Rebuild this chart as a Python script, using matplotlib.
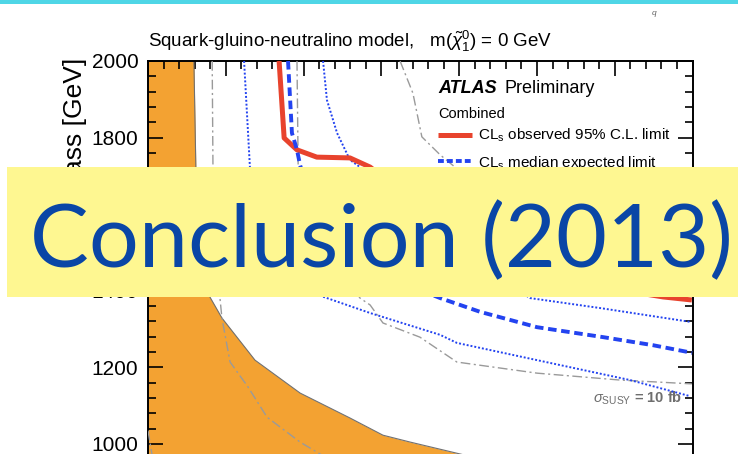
import matplotlib
matplotlib.use('Agg')
import matplotlib.pyplot as plt
from matplotlib.patches import Rectangle
from matplotlib.lines import Line2D
from matplotlib.ticker import MultipleLocator

plt.rcParams['font.family'] = ['Liberation Sans', 'DejaVu Sans']
plt.rcParams['mathtext.fontset'] = 'custom'
plt.rcParams['mathtext.rm'] = 'Liberation Sans'
plt.rcParams['mathtext.it'] = 'Liberation Sans:italic'
plt.rcParams['mathtext.bf'] = 'Liberation Sans:bold'

# curves: (gluino mass, squark mass) in GeV
orange_x = [1118, 1123, 1159, 1190, 1275, 1391, 1519, 1604, 1674, 1802, 1900]
orange_y = [2000, 1723, 1384, 1329, 1219, 1133, 1068, 1023, 1005, 974, 950]

obs_x = [1337, 1350, 1383, 1434, 1519, 1571, 1776, 2059, 2324, 2398]
obs_y = [2000, 1799, 1768, 1749, 1747, 1723, 1559, 1428, 1384, 1376]

exp_x = [1360, 1370, 1383, 1391, 1429, 1571, 1751, 1854, 2000, 2170, 2298, 2399]
exp_y = [2000, 1812, 1768, 1728, 1598, 1454, 1381, 1345, 1305, 1279, 1258, 1238]

exp_m1_x = [1247, 1262, 1293, 1365, 1460, 1571, 1751, 1794, 2000, 2239, 2393]
exp_m1_y = [2000, 1723, 1533, 1415, 1381, 1342, 1285, 1264, 1219, 1167, 1125]

exp_p1_x = [1450, 1460, 1486, 1519, 1545, 1699, 1854, 1982, 2162, 2393]
exp_p1_y = [2000, 1898, 1812, 1742, 1723, 1598, 1467, 1381, 1355, 1319]

xsec_a_x = [1165, 1167, 1185, 1190, 1211, 1257, 1306, 1391, 1442, 1545]
xsec_a_y = [2000, 1723, 1381, 1329, 1214, 1149, 1070, 1005, 974, 906]

xsec_b_x = [1383, 1386, 1442, 1545, 1571, 1604, 1699, 1794, 2000, 2213, 2398]
xsec_b_y = [2000, 1728, 1533, 1381, 1363, 1316, 1279, 1214, 1185, 1167, 1157]

xsec_c_x = [1648, 1681, 1704, 1751, 1789, 2059, 2398]
xsec_c_y = [2000, 1916, 1802, 1755, 1723, 1585, 1480]

xsec_d_x = [1000, 1010, 1030]
xsec_d_y = [1035, 974, 900]

W, H = 738, 454
fig = plt.figure(figsize=(W / 100, H / 100), dpi=100)

xmin, xmax = 1000, 2400
ymin, ymax = 975, 2000
ax_left, ax_top = 148, 61
ax_w = (xmax - xmin) * 0.389
ax_h = (ymax - ymin) * 0.383
ax = fig.add_axes([ax_left / W, 1 - (ax_top + ax_h) / H, ax_w / W, ax_h / H])
ax.set_xlim(xmin, xmax)
ax.set_ylim(ymin, ymax)

orange = '#f3a232'
ax.fill_betweenx(orange_y, xmin, orange_x, color=orange, lw=0, zorder=1)
ax.plot(orange_x, orange_y, color='#707070', lw=0.8, zorder=2)

gray = '#9a9a9a'
dashdot = (0, (7, 2.5, 1.5, 2.5))
for gx, gy in [(xsec_a_x, xsec_a_y), (xsec_b_x, xsec_b_y),
               (xsec_c_x, xsec_c_y), (xsec_d_x, xsec_d_y)]:
    ax.plot(gx, gy, color=gray, lw=1.0, ls=dashdot, zorder=3)

blue = '#2343f0'
ax.plot(exp_m1_x, exp_m1_y, color=blue, lw=1.4, ls=(0, (1, 1)), zorder=4)
ax.plot(exp_p1_x, exp_p1_y, color=blue, lw=1.4, ls=(0, (1, 1)), zorder=4)
ax.plot(obs_x, obs_y, color='#e8432d', lw=3.6, zorder=5, solid_capstyle='butt')
ax.plot(exp_x, exp_y, color=blue, lw=2.8, ls=(0, (2.2, 1.2)), zorder=6)

ax.xaxis.set_major_locator(MultipleLocator(200))
ax.xaxis.set_minor_locator(MultipleLocator(40))
ax.yaxis.set_major_locator(MultipleLocator(200))
ax.yaxis.set_minor_locator(MultipleLocator(40))
ax.tick_params(which='both', direction='in', top=True, right=True, bottom=False,
               labelbottom=False, width=1.2, labelsize=15, pad=7)
ax.tick_params(which='major', length=11)
ax.tick_params(which='minor', length=5.5)
for s in ['left', 'right', 'top']:
    ax.spines[s].set_linewidth(1.4)
ax.spines['bottom'].set_visible(False)

# texts inside the plot
ax.text(438 / W, 1 - 93 / H, 'ATLAS', transform=fig.transFigure, fontsize=13,
        fontweight='bold', fontstyle='italic', va='baseline')
ax.text(504 / W, 1 - 93 / H, 'Preliminary', transform=fig.transFigure, fontsize=13,
        va='baseline')
ax.text(438 / W, 1 - 118 / H, 'Combined', transform=fig.transFigure, fontsize=10.5,
        va='baseline')
ax.text(682 / W, 1 - 398 / H, r'$\sigma_{\rm SUSY}$ = 10 fb', transform=fig.transFigure,
        fontsize=10.5, color='#6e6e6e', fontweight='bold', ha='right', va='center')

handles = [Line2D([], [], color='#e8432d', lw=3.6, solid_capstyle='butt'),
           Line2D([], [], color=blue, lw=2.8, ls=(0, (1.5, 0.8)))]
labels = [r'CL$_{\rm s}$ observed 95% C.L. limit', r'CL$_{\rm s}$ median expected limit']
ax.legend(handles, labels, loc='upper left', bbox_to_anchor=(438 / W, 1 - 127 / H),
          bbox_transform=fig.transFigure, frameon=False, fontsize=11, borderpad=0,
          borderaxespad=0, handlelength=2.2, handletextpad=0.45, labelspacing=0.6)

fig.text(148 / W, 1 - 47 / H,
         r'Squark-gluino-neutralino model,   m($\tilde{\chi}_1^0$) = 0 GeV',
         fontsize=13.5, va='baseline')
fig.text(75 / W, 1 - 58 / H, 'Squark mass [GeV]', fontsize=19, rotation=90,
         ha='center', va='top')

# slide decoration
fig.add_artist(Rectangle((0, 1 - 4 / H), 1, 4 / H, transform=fig.transFigure,
                         color='#4fd6e6', lw=0, zorder=10))
fig.text(652 / W, 1 - 15 / H, 'q', fontsize=6, fontstyle='italic', color='#666666')
fig.add_artist(Rectangle((7 / W, 1 - 297 / H), 1 - 7 / W, 130 / H,
                         transform=fig.transFigure, color='#fef791', lw=0, zorder=10))
banner = fig.text(30 / W, 1 - 267 / H, 'Conclusion (2013)', fontsize=70, family='Lato',
                  color='#0a46a6', va='baseline', ha='left', zorder=11)
fig.canvas.draw()
bb = banner.get_window_extent()
banner.set_fontsize(70 * (733 - 30) / bb.width)

fig.savefig('out.png', dpi=100)
